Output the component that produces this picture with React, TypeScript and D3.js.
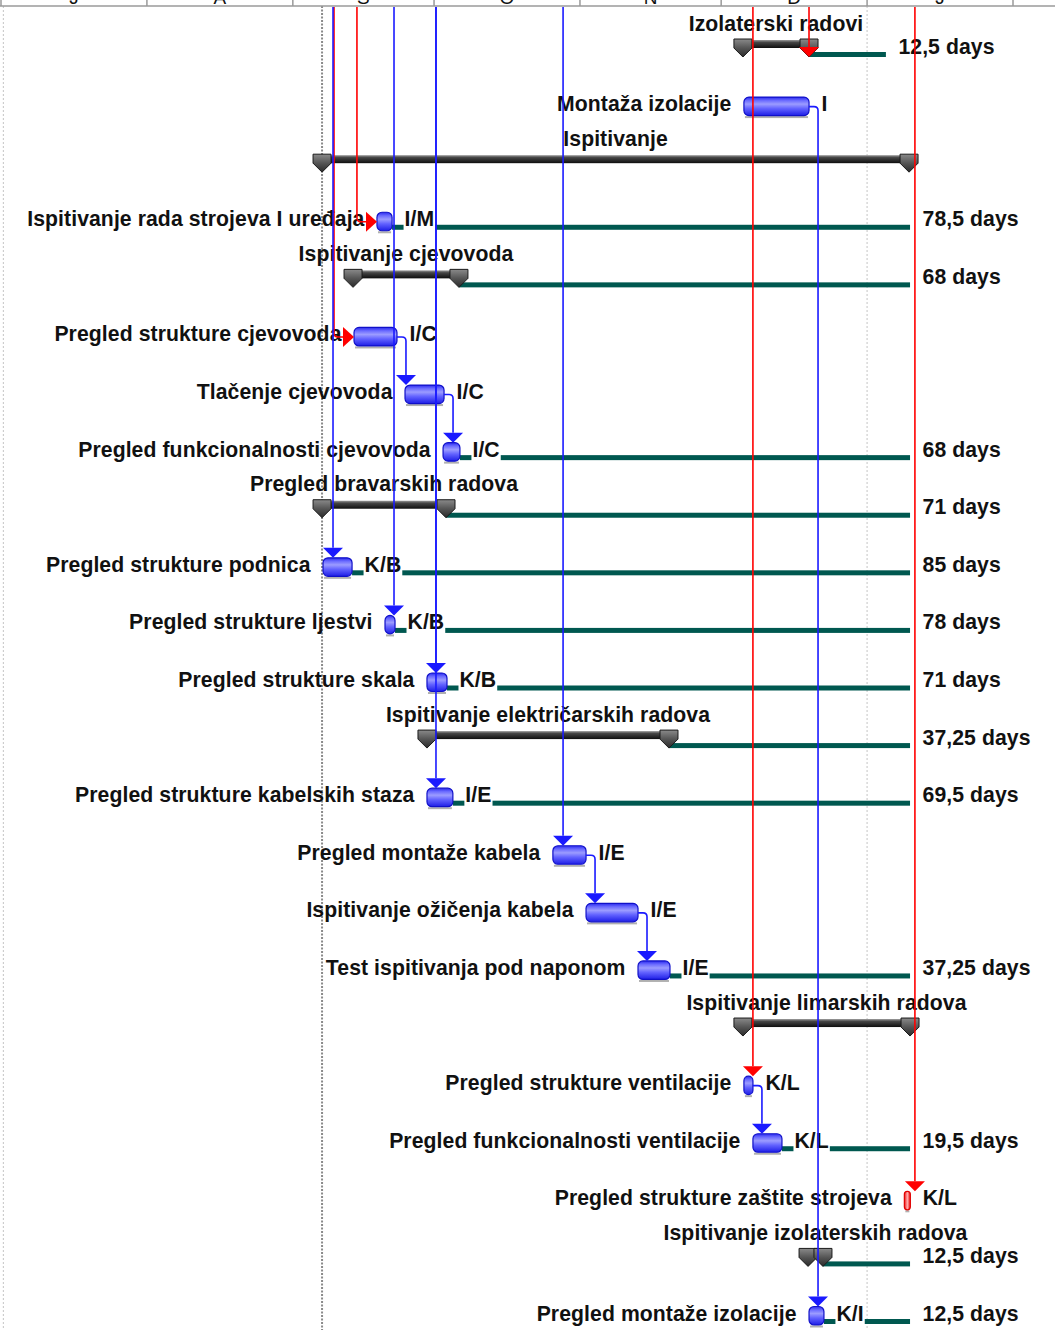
import React, { useMemo } from "react";
import * as d3 from "d3";

// ---------- timescale ----------
const monthLabels = ["J", "A", "S", "O", "N", "D", "J"];
const monthStarts = [
  "2012-07-01T00:00", "2012-08-01T00:00", "2012-09-01T00:00", "2012-10-01T00:00",
  "2012-11-01T00:00", "2012-12-01T00:00", "2013-01-01T00:00", "2013-02-01T00:00",
];
const statusDate = "2012-09-07T05:00";
const gridDates = ["2012-07-01T12:00", "2013-01-01T00:00"];

// ---------- tasks ----------
const taskNames = [
  "Izolaterski radovi",
  "Montaža izolacije",
  "Ispitivanje",
  "Ispitivanje rada strojeva I uređaja",
  "Ispitivanje cjevovoda",
  "Pregled strukture cjevovoda",
  "Tlačenje cjevovoda",
  "Pregled funkcionalnosti cjevovoda",
  "Pregled bravarskih radova",
  "Pregled strukture podnica",
  "Pregled strukture ljestvi",
  "Pregled strukture skala",
  "Ispitivanje električarskih radova",
  "Pregled strukture kabelskih staza",
  "Pregled montaže kabela",
  "Ispitivanje ožičenja kabela",
  "Test ispitivanja pod naponom",
  "Ispitivanje limarskih radova",
  "Pregled strukture ventilacije",
  "Pregled funkcionalnosti ventilacije",
  "Pregled strukture zaštite strojeva",
  "Ispitivanje izolaterskih radova",
  "Pregled montaže izolacije",
];
const taskKinds = [
  "summary", "task", "summary", "task", "summary", "task", "task", "task",
  "summary", "task", "task", "task", "summary", "task", "task", "task", "task",
  "summary", "task", "task", "task", "summary", "task",
];
const taskStarts = [
  "2012-12-05T15:00", "2012-12-05T20:00", "2012-09-07T05:00", "2012-09-18T21:00",
  "2012-09-13T19:00", "2012-09-14T00:00", "2012-09-24T20:00", "2012-10-02T22:00",
  "2012-09-07T05:00", "2012-09-07T10:00", "2012-09-20T14:00", "2012-09-29T12:00",
  "2012-09-29T12:00", "2012-09-29T12:00", "2012-10-26T06:00", "2012-11-02T07:00",
  "2012-11-13T08:00", "2012-12-05T15:00", "2012-12-05T20:00", "2012-12-07T18:00",
  "2013-01-08T22:00", "2012-12-19T11:00", "2012-12-19T16:00",
];
const taskFinishes = [
  "2012-12-19T16:00", "2012-12-19T16:00", "2013-01-09T22:00", "2012-09-22T02:00",
  "2012-10-06T07:00", "2012-09-23T03:00", "2012-10-03T03:00", "2012-10-06T12:00",
  "2012-10-03T13:00", "2012-09-13T14:00", "2012-09-22T17:00", "2012-10-03T18:00",
  "2012-11-19T22:00", "2012-10-05T00:00", "2012-11-02T07:00", "2012-11-13T08:00",
  "2012-11-20T03:00", "2013-01-10T03:00", "2012-12-07T18:00", "2012-12-13T22:00",
  "2013-01-10T04:00", "2012-12-22T15:00", "2012-12-22T20:00",
];
const lateFinishes = [
  "2013-01-05T00:00", "", "", "2013-01-10T03:00", "2013-01-10T03:00", "", "",
  "2013-01-10T03:00", "2013-01-10T03:00", "2013-01-10T03:00", "2013-01-10T03:00",
  "2013-01-10T03:00", "2013-01-10T03:00", "2013-01-10T03:00", "", "",
  "2013-01-10T03:00", "", "", "2013-01-10T03:00", "", "2013-01-10T03:00",
  "2013-01-10T03:00",
];
const slackLabels = [
  "12,5 days", "", "", "78,5 days", "68 days", "", "", "68 days", "71 days",
  "85 days", "78 days", "71 days", "37,25 days", "69,5 days", "", "", "37,25 days",
  "", "", "19,5 days", "", "12,5 days", "12,5 days",
];
const resourceNames = [
  "", "I", "", "I/M", "", "I/C", "I/C", "I/C", "", "K/B", "K/B", "K/B", "",
  "I/E", "I/E", "I/E", "I/E", "", "K/L", "K/L", "K/L", "", "K/I",
];
const criticalTasks = [
  false, false, false, false, false, false, false, false, false, false, false, false,
  false, false, false, false, false, false, false, false, true, false, false,
];

// ---------- links (-1 = predecessor above the visible area) ----------
const linkFromTask = [-1, -1, -1, -1, -1, -1, -1, -1, -1, -1, 5, 6, 14, 15, 18, 1];
const linkFromDate = [
  "2012-09-07T20:00", "2012-09-12T17:00", "2012-12-05T20:00", "2012-12-17T18:00",
  "2013-01-09T06:00", "2012-09-07T15:00", "2012-09-20T14:00", "2012-09-29T12:00",
  "2012-09-29T12:00", "2012-10-26T12:00", "", "", "", "", "", "",
];
const linkToTask = [5, 3, 18, 0, 20, 9, 10, 11, 13, 14, 6, 7, 15, 16, 19, 22];
const linkEntry = [
  "right", "right", "down", "down", "down", "down", "down", "down", "down", "down",
  "down", "down", "down", "down", "down", "down",
];
const linkCritical = [
  true, true, true, true, true, false, false, false, false, false,
  false, false, false, false, false, false,
];

const FONT = "'Liberation Sans', Arial, Helvetica, sans-serif";
const FS = 21.2;
const LS = 0.08;
const BLUE = "#1a1aff";
const RED = "#ff0000";
const TEAL = "#005850";
const TEXT = "#111111";

const parse = (s: string) => new Date(s);

export default function App() {
  const W = 1055;
  const H = 1330;
  const headerBottom = 6;

  const x = d3
    .scaleTime()
    .domain([parse(monthStarts[0]), parse(monthStarts[monthStarts.length - 1])])
    .range([1, 1013]);
  const y = d3.scaleLinear().domain([0, taskNames.length - 1]).range([46, 1313]);

  const measure = useMemo(() => {
    const ctx = document.createElement("canvas").getContext("2d");
    if (ctx) ctx.font = `bold ${FS}px ${FONT}`;
    return (s: string) =>
      (ctx ? ctx.measureText(s).width : s.length * 11) + s.length * LS;
  }, []);

  const tasks = taskNames.map((name, i) => {
    const x0 = x(parse(taskStarts[i]));
    const x1 = x(parse(taskFinishes[i]));
    return {
      name,
      i,
      kind: taskKinds[i],
      x0,
      x1,
      c: y(i),
      late: lateFinishes[i] ? x(parse(lateFinishes[i])) : null,
      slack: slackLabels[i],
      res: resourceNames[i],
      critical: criticalTasks[i],
    };
  });

  const capPath = (cx: number, c: number) =>
    `M${cx - 9},${c - 7} H${cx + 9} V${c + 2} L${cx},${c + 11} L${cx - 9},${c + 2} Z`;

  const r = 4;
  const links = linkToTask.map((to, k) => {
    const t = tasks[to];
    const from = linkFromTask[k];
    const color = linkCritical[k] ? RED : BLUE;
    let lx: number;
    let startPath: string;
    if (from >= 0) {
      const p = tasks[from];
      lx = p.x1 + 9;
      const py = p.c + 3;
      startPath = `M${p.x1},${py} H${lx - r} Q${lx},${py} ${lx},${py + r}`;
    } else {
      lx = x(parse(linkFromDate[k])) + 9;
      startPath = `M${lx},${headerBottom + 1}`;
    }
    if (linkEntry[k] === "right") {
      const cy = t.c + 3;
      const tipX = t.x0;
      const path = `${startPath} V${cy - r} Q${lx},${cy} ${lx + r},${cy} H${tipX - 11}`;
      const tri = `M${tipX - 11},${cy - 10} L${tipX},${cy} L${tipX - 11},${cy + 10} Z`;
      return { path, tri, color };
    }
    const tipY = t.kind === "summary" ? t.c + 11 : t.c - 6.5;
    const path = `${startPath} V${tipY - 10}`;
    const tri = `M${lx - 10},${tipY - 10} H${lx + 10} L${lx},${tipY} Z`;
    return { path, tri, color };
  });

  const months = monthLabels.map((m, i) => {
    const a = x(parse(monthStarts[i]));
    const b = x(parse(monthStarts[i + 1]));
    return { m, a, b };
  });

  const textProps = {
    fontSize: FS,
    fontWeight: "bold" as const,
    fill: TEXT,
    letterSpacing: LS,
  };

  return (
    <>
      <style>{`body{margin:0;}`}</style>
      <svg width={W} height={H} style={{ display: "block", background: "#fff" }} fontFamily={FONT}>
        <defs>
          <linearGradient id="blueBar" x1="0" y1="0" x2="0" y2="1">
            <stop offset="0%" stopColor="#2a2aee" />
            <stop offset="18%" stopColor="#6a6aff" />
            <stop offset="38%" stopColor="#9c9cff" />
            <stop offset="62%" stopColor="#6262ff" />
            <stop offset="100%" stopColor="#1e1ee6" />
          </linearGradient>
          <linearGradient id="redBar" x1="0" y1="0" x2="1" y2="0">
            <stop offset="0%" stopColor="#ee1010" />
            <stop offset="50%" stopColor="#ffb0b0" />
            <stop offset="100%" stopColor="#ee1010" />
          </linearGradient>
          <linearGradient id="sumBar" x1="0" y1="0" x2="0" y2="1">
            <stop offset="0%" stopColor="#9a9a9a" />
            <stop offset="30%" stopColor="#454545" />
            <stop offset="100%" stopColor="#0e0e0e" />
          </linearGradient>
          <linearGradient id="sumCap" x1="0" y1="0" x2="0" y2="1">
            <stop offset="0%" stopColor="#8a8a8a" />
            <stop offset="50%" stopColor="#555555" />
            <stop offset="100%" stopColor="#2a2a2a" />
          </linearGradient>
        </defs>

        <rect x={0} y={0} width={W} height={H} fill="#fff" />

        {/* grid lines */}
        {gridDates.map((g, i) => (
          <line
            key={`g${i}`}
            x1={x(parse(g))}
            x2={x(parse(g))}
            y1={headerBottom}
            y2={H}
            stroke="#c4c4c4"
            strokeWidth={1}
            strokeDasharray="2,2"
          />
        ))}
        <line
          x1={x(parse(statusDate))}
          x2={x(parse(statusDate))}
          y1={headerBottom}
          y2={H}
          stroke="#8a8a8a"
          strokeWidth={2}
          strokeDasharray="2,1.5"
        />

        {/* total slack lines */}
        {tasks
          .filter((t) => t.late !== null)
          .map((t) => (
            <rect
              key={`s${t.i}`}
              x={t.x1}
              y={t.c + 6}
              width={(t.late as number) - t.x1}
              height={5}
              fill={TEAL}
            />
          ))}

        {/* summary bars */}
        {tasks
          .filter((t) => t.kind === "summary")
          .map((t) => (
            <g key={`sum${t.i}`}>
              <rect x={t.x0} y={t.c - 6} width={t.x1 - t.x0} height={8} fill="url(#sumBar)" />
              <path d={capPath(t.x0, t.c)} fill="url(#sumCap)" stroke="#1a1a1a" strokeWidth={1} />
              <path d={capPath(t.x1, t.c)} fill="url(#sumCap)" stroke="#1a1a1a" strokeWidth={1} />
            </g>
          ))}

        {/* task bars */}
        {tasks
          .filter((t) => t.kind === "task")
          .map((t) => {
            const w = Math.max(t.x1 - t.x0, 6);
            const top = t.c - 6.5;
            const h = 18.5;
            return (
              <g key={`bar${t.i}`}>
                <rect
                  x={t.x0 + 1}
                  y={top + h + 0.5}
                  width={Math.max(w - 2, 2)}
                  height={2}
                  fill="#b0b0b0"
                />
                <rect
                  x={t.x0}
                  y={top}
                  width={w}
                  height={h}
                  rx={Math.min(5, w / 2)}
                  fill={t.critical ? "url(#redBar)" : "url(#blueBar)"}
                  stroke={t.critical ? "#e00000" : "#1010c8"}
                  strokeWidth={1.2}
                />
              </g>
            );
          })}

        {/* labels */}
        {tasks.map((t) => {
          const base = t.c + 7.5;
          const els: React.ReactNode[] = [];
          if (t.kind === "summary") {
            els.push(
              <text
                key="n"
                x={(t.x0 + t.x1) / 2}
                y={t.c - 23 + 7.5}
                textAnchor="middle"
                {...textProps}
              >
                {t.name}
              </text>
            );
          } else {
            els.push(
              <text key="n" x={t.x0 - 12.5} y={base} textAnchor="end" {...textProps}>
                {t.name}
              </text>
            );
          }
          if (t.res) {
            const rx = t.x1 + 12.5;
            const w = measure(t.res);
            els.push(
              <rect key="rb" x={rx - 1} y={t.c + 4} width={w + 2} height={9} fill="#fff" />
            );
            els.push(
              <text key="r" x={rx} y={base} {...textProps}>
                {t.res}
              </text>
            );
          }
          if (t.slack && t.late !== null) {
            els.push(
              <text key="d" x={t.late + 12.5} y={base} {...textProps}>
                {t.slack}
              </text>
            );
          }
          return <g key={`l${t.i}`}>{els}</g>;
        })}

        {/* links */}
        {links.map((l, k) => (
          <g key={`lk${k}`}>
            <path d={l.path} fill="none" stroke={l.color} strokeWidth={1.6} />
            <path d={l.tri} fill={l.color} />
          </g>
        ))}

        {/* header (time scale, cut off at the top as in the source) */}
        <rect x={0} y={0} width={W} height={headerBottom} fill="#fff" />
        {months.map((mo, i) => (
          <g key={`m${i}`}>
            <text
              x={(mo.a + mo.b) / 2}
              y={4}
              textAnchor="middle"
              fontSize={19}
              fill={TEXT}
            >
              {mo.m}
            </text>
            <line x1={mo.b} x2={mo.b} y1={0} y2={headerBottom} stroke="#9a9a9a" strokeWidth={1.5} />
          </g>
        ))}
        <line x1={1} x2={1} y1={0} y2={headerBottom} stroke="#9a9a9a" strokeWidth={1.5} />
        <line x1={0} x2={W} y1={headerBottom} y2={headerBottom} stroke="#9a9a9a" strokeWidth={1.5} />
      </svg>
    </>
  );
}
